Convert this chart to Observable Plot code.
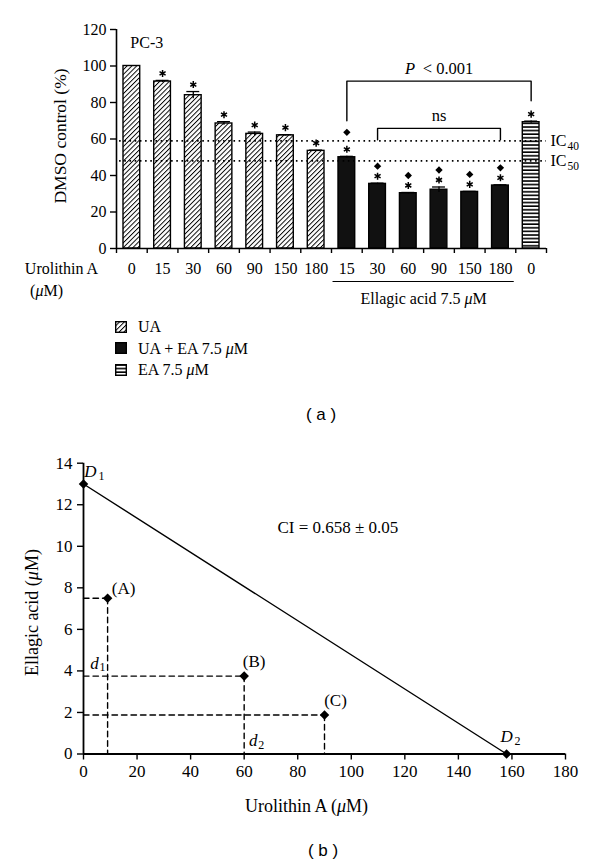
<!DOCTYPE html>
<html><head><meta charset="utf-8">
<script src="https://cdn.jsdelivr.net/npm/d3@7"></script>
<script src="https://cdn.jsdelivr.net/npm/@observablehq/plot@0.6"></script>
<style>
html,body{margin:0;padding:0;background:#fff;}
body{width:600px;height:866px;position:relative;overflow:hidden;font-family:"Liberation Serif","Times New Roman",serif;color:#000;}
#a{position:absolute;left:0;top:0;}
#b{position:absolute;left:0;top:430px;}
.cap{position:absolute;width:40px;text-align:center;font-family:"Liberation Sans",Arial,sans-serif;font-size:17px;white-space:pre;}
#legend{position:absolute;left:115px;top:316px;font-size:16px;line-height:21.5px;}
#legend div{display:flex;align-items:center;}
#legend svg{margin-right:11px;}
</style>
</head><body>
<div id="a"></div>
<div id="legend"></div>
<div class="cap" style="top:405px;left:301px">( a )</div>
<div id="b"></div>
<div class="cap" style="top:841px;left:303px">( b )</div>
<script>
// ---------- Panel (a) data ----------
const groups = ["UA", "UA + EA 7.5 μM", "EA 7.5 μM"];
const uaDose = ["0", "15", "30", "60", "90", "150", "180"];
const uaMean = [100, 91.5, 84, 68.5, 62.8, 62, 53.5];
const uaErr = [0, 0.6, 2, 1, 1, 0.4, 0.4];
const comboDose = ["15", "30", "60", "90", "150", "180"];
const comboMean = [50, 35.4, 30.3, 32.2, 31, 34.5];
const comboErr = [0.5, 0.4, 0.4, 1.5, 0.3, 0.4];
const eaDose = ["0"];
const eaMean = [69.2];
const eaErr = [0.6];
const icValues = [59, 48];
const icSubs = ["40", "50"];
const yTicksA = [0, 20, 40, 60, 80, 100, 120];

// ---------- Panel (b) data ----------
const isoLabels = ["D1", "(A)", "(B)", "(C)", "D2"];
const isoUA = [0, 9, 60, 90, 158];
const isoEA = [13, 7.5, 3.75, 1.875, 0];
const ciText = "CI = 0.658 ± 0.05";
const xTicksB = [0, 20, 40, 60, 80, 100, 120, 140, 160, 180];
const yTicksB = [0, 2, 4, 6, 8, 10, 12, 14];

// ---------- build rows ----------
const rows = [
  ...uaDose.map((d, k) => ({group: groups[0], dose: d, mean: uaMean[k], err: uaErr[k]})),
  ...comboDose.map((d, k) => ({group: groups[1], dose: d, mean: comboMean[k], err: comboErr[k]})),
  ...eaDose.map((d, k) => ({group: groups[2], dose: d, mean: eaMean[k], err: eaErr[k]}))
].map((r, i) => ({...r, i}));
const fills = {[groups[0]]: "url(#hatchD)", [groups[1]]: "#111", [groups[2]]: "url(#hatchH)"};
const nA = rows.length;
const starRows = rows.filter(r => !(r.group === groups[0] && r.dose === "0"));
const diamondRows = rows.filter(r => r.group === groups[1]);
const errRows = rows.filter(r => r.err > 0);
const comboIdx = diamondRows.map(r => r.i);
const eaIdx = rows.filter(r => r.group === groups[2]).map(r => r.i);
const cFirst = comboIdx[0], cLast = comboIdx[comboIdx.length - 1];

const pBracket = [
  {x: cFirst + 0.5, y: 70}, {x: cFirst + 0.5, y: 91.7},
  {x: eaIdx[0] + 0.5, y: 91.7}, {x: eaIdx[0] + 0.5, y: 81}
];
const nsBracket = [
  {x: cFirst + 1.5, y: 59.6}, {x: cFirst + 1.5, y: 65.8},
  {x: cLast + 0.5, y: 65.8}, {x: cLast + 0.5, y: 59.6}
];

const serif = "Liberation Serif, Times New Roman, serif";
const K = "#000";

function italicMu(svg) {
  d3.select(svg).selectAll("text").each(function () {
    if (this.children.length === 0 && this.textContent.includes("μ")) {
      const parts = this.textContent.split("μ");
      this.textContent = "";
      parts.forEach((p, k) => {
        if (k > 0) d3.select(this).append("tspan").attr("font-style", "italic").text("μ");
        if (p) d3.select(this).append("tspan").text(p);
      });
    }
  });
}

const chartA = Plot.plot({
  width: 600, height: 310,
  marginLeft: 116, marginRight: 54, marginTop: 29, marginBottom: 62,
  style: {fontFamily: serif, fontSize: "16px", color: K, background: "transparent", overflow: "visible"},
  x: {domain: [0, nA], axis: null},
  y: {domain: [0, 120], axis: null},
  marks: [
    Plot.axisY({ticks: yTicksA, tickSize: 6, tickPadding: 4, fontSize: 16, label: null, stroke: K, strokeWidth: 1.4, fill: K}),
    Plot.axisX({ticks: d3.range(nA + 1), tickFormat: () => "", tickSize: 5, label: null, stroke: K, strokeWidth: 1.4}),
    ...groups.map(g => Plot.rectY(rows.filter(r => r.group === g), {
      x1: d => d.i, x2: d => d.i + 1, y: "mean", fill: fills[g], stroke: K, strokeWidth: 1.4,
      insetLeft: 7, insetRight: 7
    })),
    Plot.ruleX(errRows, {x: d => d.i + 0.5, y1: d => d.mean - d.err, y2: d => d.mean + d.err, strokeWidth: 1.3}),
    Plot.ruleY(errRows, {y: d => d.mean + d.err, x1: d => d.i + 0.29, x2: d => d.i + 0.71, strokeWidth: 1.3}),
    Plot.ruleY(icValues, {y: d => d, x1: 0.1, x2: nA, stroke: K, strokeWidth: 1.8, strokeDasharray: "1.6,3.6"}),
    Plot.text(icValues, {x: nA, y: d => d, text: () => "IC", textAnchor: "start", dx: 4, fontSize: 16, fill: K}),
    Plot.text(icValues, {x: nA, y: d => d, text: (d, k) => icSubs[k], textAnchor: "start", dx: 21, dy: 5, fontSize: 11.5, fill: K}),
    Plot.ruleX([0], {stroke: K, strokeWidth: 1.6}),
    Plot.ruleY([0], {stroke: K, strokeWidth: 1.6}),
    Plot.dot(starRows, {x: d => d.i + 0.5, y: d => d.mean + d.err, symbol: "asterisk", r: 3.3, stroke: K, strokeWidth: 1.5, dy: -7}),
    Plot.dot(diamondRows.slice(0, 1), {x: d => d.i + 0.5, y: d => d.mean + d.err, symbol: "diamond2", r: 3.3, fill: K, stroke: "none", dy: -24}),
    Plot.dot(diamondRows.slice(1), {x: d => d.i + 0.5, y: d => d.mean + d.err, symbol: "diamond2", r: 3.3, fill: K, stroke: "none", dy: -17}),
    Plot.text(rows, {x: d => d.i + 0.5, y: 0, text: "dose", dy: 20, lineAnchor: "middle", fill: K}),
    Plot.text(["Urolithin A"], {x: 0, y: 0, text: d => d, dx: -55, dy: 20, lineAnchor: "middle", fill: K}),
    Plot.text(["(μM)"], {x: 0, y: 0, text: d => d, dx: -70, dy: 42, lineAnchor: "middle", fill: K}),
    Plot.ruleY([0], {x1: cFirst + 0.05, x2: cLast + 1 - 0.05, dy: 33, strokeWidth: 1.2}),
    Plot.text(["Ellagic acid 7.5 μM"], {x: (cFirst + cLast + 1) / 2, y: 0, text: d => d, dy: 50, lineAnchor: "middle", fill: K}),
    Plot.text(["DMSO control (%)"], {frameAnchor: "left", textAnchor: "middle", text: d => d, rotate: -90, dx: -56, dy: -3, fontSize: 17.5, fill: K}),
    Plot.text(["PC-3"], {x: 0.45, y: 112.5, text: d => d, textAnchor: "start", fontSize: 16, fill: K}),
    Plot.line(pBracket, {x: "x", y: "y", stroke: K, strokeWidth: 1.4}),
    Plot.line(nsBracket, {x: "x", y: "y", stroke: K, strokeWidth: 1.4}),
    Plot.text(["< 0.001"], {x: (cFirst + eaIdx[0] + 1) / 2, y: 98.5, text: d => d, dx: 9, fontSize: 16.5, fill: K}),
    Plot.text(["P"], {x: (cFirst + eaIdx[0] + 1) / 2, y: 98.5, text: d => d, dx: -29, fontSize: 16.5, fontStyle: "italic", fill: K}),
    Plot.text(["ns"], {x: (cFirst + cLast + 2) / 2, y: 73, text: d => d, fontSize: 16.5, fill: K})
  ]
});
d3.select(chartA).insert("defs", ":first-child").html(`
  <pattern id="hatchD" patternUnits="userSpaceOnUse" width="3.4" height="3.4" patternTransform="rotate(45)">
    <rect width="3.4" height="3.4" fill="#fff"/>
    <line x1="0" y1="0" x2="0" y2="3.4" stroke="#000" stroke-width="1.9"/>
  </pattern>
  <pattern id="hatchH" patternUnits="userSpaceOnUse" width="4" height="3.6">
    <rect width="4" height="3.6" fill="#fff"/>
    <line x1="0" y1="1" x2="4" y2="1" stroke="#000" stroke-width="1.6"/>
  </pattern>`);
italicMu(chartA);
document.getElementById("a").appendChild(chartA);

// legend
const leg = document.getElementById("legend");
groups.forEach(g => {
  const row = document.createElement("div");
  row.innerHTML = `<svg width="12" height="12"><rect x="0.7" y="0.7" width="10.6" height="10.6" fill="${fills[g]}" stroke="#000" stroke-width="1.4"/></svg><span>${g.replace("μM", "<i>μ</i>M")}</span>`;
  leg.appendChild(row);
});

// ---------- Panel (b) ----------
const pts = isoLabels.map((l, k) => ({label: l, x: isoUA[k], y: isoEA[k]}));
const dropPts = pts.filter(p => p.label.startsWith("("));
const hLines = dropPts.map(p => [{x: 0, y: p.y}, {x: p.x, y: p.y}]);
const vLines = dropPts.map(p => [{x: p.x, y: p.y}, {x: p.x, y: 0}]);
const labelOff = {"D1": [10, -12], "(A)": [16, -10], "(B)": [10, -15], "(C)": [11, -15], "D2": [3, -17]};

const chartB = Plot.plot({
  width: 600, height: 400,
  marginLeft: 83, marginRight: 35, marginTop: 32.7, marginBottom: 76.5,
  style: {fontFamily: serif, fontSize: "17px", color: K, background: "transparent", overflow: "visible"},
  x: {domain: [0, 180], axis: null},
  y: {domain: [0, 14], axis: null},
  marks: [
    Plot.axisX({ticks: xTicksB, tickSize: 6, tickPadding: 5, fontSize: 17, label: null, stroke: K, strokeWidth: 1.4, fill: K}),
    Plot.axisY({ticks: yTicksB, tickSize: 6, tickPadding: 5, fontSize: 17, label: null, stroke: K, strokeWidth: 1.4, fill: K}),
    ...hLines.map(l => Plot.line(l, {x: "x", y: "y", strokeDasharray: "5.5,4", strokeWidth: 1.4})),
    ...vLines.map(l => Plot.line(l, {x: "x", y: "y", strokeDasharray: "5.5,4", strokeWidth: 1.4})),
    Plot.line(pts.filter(p => p.label.startsWith("D")), {x: "x", y: "y", strokeWidth: 1.4}),
    Plot.ruleX([0], {strokeWidth: 1.8}),
    Plot.ruleY([0], {strokeWidth: 1.8}),
    Plot.dot(pts, {x: "x", y: "y", symbol: "diamond2", r: 4.3, fill: K, stroke: "none"}),
    ...pts.filter(p => p.label.startsWith("(")).map(p => Plot.text([p], {x: "x", y: "y", text: "label", dx: labelOff[p.label][0], dy: labelOff[p.label][1], fill: K})),
    ...pts.filter(p => p.label.startsWith("D")).map(p => Plot.text([p], {x: "x", y: "y", text: () => "D", fontStyle: "italic", dx: labelOff[p.label][0] - 3, dy: labelOff[p.label][1], fill: K})),
    ...pts.filter(p => p.label.startsWith("D")).map(p => Plot.text([p], {x: "x", y: "y", text: d => d.label.slice(1), fontSize: 12, dx: labelOff[p.label][0] + 8, dy: labelOff[p.label][1] + 4, fill: K})),
    Plot.text([dropPts[1]], {x: 0, y: "y", text: () => "d", fontStyle: "italic", dx: 11, dy: -13, fill: K}),
    Plot.text([dropPts[1]], {x: 0, y: "y", text: () => "1", fontSize: 12, dx: 19, dy: -9, fill: K}),
    Plot.text([dropPts[1]], {x: "x", y: 0, text: () => "d", fontStyle: "italic", dx: 9, dy: -13, fill: K}),
    Plot.text([dropPts[1]], {x: "x", y: 0, text: () => "2", fontSize: 12, dx: 17, dy: -9, fill: K}),
    Plot.text([ciText], {x: 95, y: 10.9, text: d => d, fill: K}),
    Plot.text(["Urolithin A (μM)"], {frameAnchor: "bottom", lineAnchor: "middle", text: d => d, dx: -18, dy: 52, fontSize: 18, fill: K}),
    Plot.text(["Ellagic acid (μM)"], {frameAnchor: "left", textAnchor: "middle", text: d => d, rotate: -90, dx: -51, dy: 4, fontSize: 18, fill: K})
  ]
});
italicMu(chartB);
document.getElementById("b").appendChild(chartB);
</script>
</body></html>
